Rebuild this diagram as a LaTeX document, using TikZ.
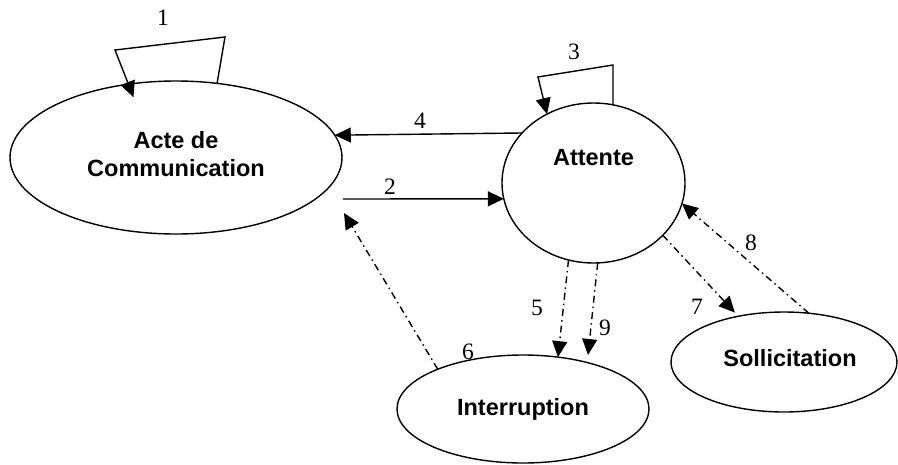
\documentclass[tikz,border=0pt]{standalone}
\usepackage{fontspec}
\setmainfont{Liberation Serif}
\setsansfont{Liberation Sans}
\usetikzlibrary{shapes.geometric,arrows.meta}
\begin{document}
\begin{tikzpicture}[x=1pt,y=-1pt,
  state/.style={ellipse,draw,line width=1.4pt,inner sep=0pt,outer sep=0pt},
  txt/.style={font=\sffamily\bfseries\fontsize{23.5}{28}\selectfont,align=center,inner sep=0pt},
  num/.style={font=\fontsize{23.5}{26}\selectfont,inner sep=0pt},
  arr/.style={line width=1.4pt,-{Triangle[length=16pt,width=15pt]}},
  dd/.style={arr,dash pattern=on 7pt off 4pt on 1.5pt off 4pt}]
\useasboundingbox (0,0) rectangle (898,464);
\node[state,minimum width=332pt,minimum height=153pt,
  label={[txt,yshift=3pt]center:Acte de\\Communication}] (acte) at (176,157.5) {};
\node[state,minimum width=183pt,minimum height=160pt,
  label={[txt,yshift=25pt]center:Attente}] (att) at (593.5,183) {};
\node[state,minimum width=252pt,minimum height=108pt,
  label={[txt]center:Interruption}] (int) at (523,409) {};
\node[state,minimum width=226pt,minimum height=100pt,
  label={[txt,xshift=6pt,yshift=4pt]center:Sollicitation}] (sol) at (784,362) {};
\coordinate (c2) at (343,199);
\coordinate (c6) at (344,213);
\coordinate (c9) at (588,355);
% 1
\draw[arr,shorten >=-14pt] (acte.61.7) -- (225,37) -- (115,50) -- (acte.123.4);
\node[num] (n1) at (163,18) {1};
% 3
\draw[arr] (att.76) -- (613,65) -- (538,77) -- (att.124.8);
\node[num] (n3) at (574,52) {3};
% 4
\draw[arr] (att.145) -- (acte.8.9);
\node[num] (n4) at (420,121) {4};
% 2
\draw[arr] (c2) -- (att.190.1);
\node[num] (n2) at (390,187) {2};
% 6
\draw[dd] (int.155.3) -- (c6);
\node[num] (n6) at (468,352) {6};
% 5
\draw[dd] (att.252.35) -- (int.56);
\node[num] (n5) at (537,308) {5};
% 9
\draw[dd] (att.273.2) -- (c9);
\node[num] (n9) at (605,328) {9};
% 7
\draw[dd,shorten >=5pt] (att.323.2) -- (sol.135.2);
\node[num] (n7) at (697,307) {7};
% 8
\draw[dd] (sol.63.9) -- (att.347.3);
\node[num] (n8) at (751,243) {8};
\end{tikzpicture}
\end{document}
